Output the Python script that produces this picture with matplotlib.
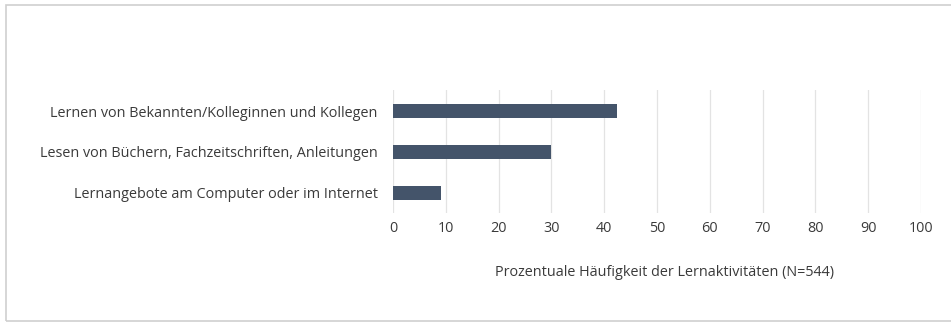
import matplotlib.pyplot as plt
from matplotlib.patches import Rectangle

# data
categories = ['Lernen von Bekannten/Kolleginnen und Kollegen',
              'Lesen von Büchern, Fachzeitschriften, Anleitungen',
              'Lernangebote am Computer oder im Internet']
values = [42.5, 30.0, 9.1]
xticks = [0, 10, 20, 30, 40, 50, 60, 70, 80, 90, 100]
xlabel = 'Prozentuale Häufigkeit der Lernaktivitäten (N=544)'

bar_color = '#44546a'
text_color = '#3a3a3a'
plt.rcParams['font.family'] = ['Open Sans', 'DejaVu Sans']
fs = 10.4

fig = plt.figure(figsize=(9.51, 3.26), dpi=100)
ax = fig.add_axes([393/951, 1-213/326, (921-393)/951, (213-90)/326])

ypos = list(range(len(categories)))
ax.barh(ypos, values, height=0.34, color=bar_color, zorder=3)
ax.set_yticks(ypos)
ax.set_yticklabels(categories, fontsize=fs, color=text_color)
ax.set_ylim(2.5, -0.52)
ax.set_xlim(0, 100)
ax.set_xticks(xticks)
ax.set_xticklabels([str(t) for t in xticks], fontsize=fs, color=text_color)
ax.tick_params(axis='x', length=0, pad=6)
ax.tick_params(axis='y', length=0, pad=11)
ax.grid(axis='x', color='#e3e3e3', linewidth=0.9, zorder=0)
for s in ax.spines.values():
    s.set_visible(False)
ax.set_xlabel(xlabel, fontsize=fs, color=text_color, labelpad=16)
ax.xaxis.set_label_coords(0.515, -0.42)

# outer chart border
fig.patches.append(Rectangle((6/951, 5/326), 1.1, 316/326, transform=fig.transFigure,
                             fill=False, edgecolor='#cfcfcf', linewidth=1.2))

fig.savefig('out.png', dpi=100)
